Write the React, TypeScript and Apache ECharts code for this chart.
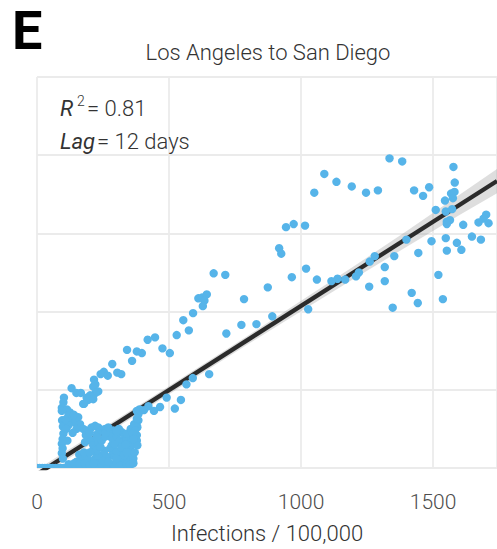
import React, { useEffect, useRef } from "react";
import * as echarts from "echarts";

// x axis ticks (Infections / 100,000)
const xTicks = [0, 500, 1000, 1500];
const xMax = 1742;
const yMax = 5;

// points lying on the zero line
const baseline: number[][] = [
  [0, 0], [10, 0], [20, 0], [30, 0], [40, 0], [50, 0], [60, 0], [70, 0],
  [80, 0], [90, 0], [100, 0], [110, 0], [120, 0], [130, 0], [140, 0],
  [150, 0], [160, 0], [170, 0], [180, 0], [190, 0], [200, 0], [210, 0],
  [230, 0.01], [255, 0.01], [280, 0.02], [305, 0.01], [330, 0.02], [350, 0.01],
];

// dense cluster near the origin
const cluster: number[][] = [
  [207, 0.92], [194, 0.87], [175, 0.82], [94, 0.77], [94, 0.73], [113, 0.75],
  [125, 0.71], [119, 0.67], [131, 0.63], [144, 0.58], [156, 0.65], [163, 0.56],
  [175, 0.5], [188, 0.48], [207, 0.52], [220, 0.54], [232, 0.52], [245, 0.48],
  [258, 0.5], [277, 0.46], [289, 0.48], [302, 0.44], [321, 0.46], [333, 0.42],
  [352, 0.44], [365, 0.48], [378, 0.54], [384, 0.61], [384, 0.69], [388, 0.75],
  [95, 0.61], [98, 0.53], [100, 0.44], [97, 0.37], [94, 0.31], [97, 0.25],
  [94, 0.19], [98, 0.12], [182, 0.33], [194, 0.37], [207, 0.35], [213, 0.29],
  [213, 0.23], [226, 0.19], [220, 0.12], [207, 0.08], [232, 0.33], [245, 0.35],
  [258, 0.4], [277, 0.4], [289, 0.35], [283, 0.29], [277, 0.25], [289, 0.23],
  [283, 0.16], [264, 0.14], [245, 0.14], [232, 0.16], [226, 0.23], [302, 0.4],
  [314, 0.35], [327, 0.33], [340, 0.37], [352, 0.33], [359, 0.29], [346, 0.23],
  [352, 0.16], [340, 0.12], [327, 0.1], [314, 0.08], [308, 0.14], [302, 0.21],
  [327, 0.19], [239, 0.06], [264, 0.04], [289, 0.05], [314, 0.03], [340, 0.05],
  [352, 0.04], [378, 0.42], [378, 0.35], [380, 0.29], [150, 0.08], [170, 0.1],
  [190, 0.14],
  // fill of the dense mass
  [120, 0.05], [140, 0.06], [160, 0.05], [180, 0.06], [200, 0.04], [215, 0.06],
  [160, 0.17], [178, 0.2], [200, 0.2], [185, 0.42], [200, 0.45], [230, 0.44],
  [260, 0.45], [295, 0.3], [320, 0.26], [335, 0.3], [365, 0.12], [370, 0.2],
  [365, 0.06], [250, 0.09], [270, 0.08], [300, 0.12], [330, 0.16], [360, 0.38],
  [225, 0.4], [340, 0.44], [310, 0.5], [270, 0.52], [150, 0.5], [120, 0.55],
  [110, 0.5], [135, 0.45], [115, 0.35], [108, 0.62], [140, 0.68], [300, 0.47],
  [355, 0.5], [368, 0.56], [255, 0.22], [240, 0.27], [340, 0.2],
];

// rising arm between the cluster and the upper cloud
const rising: number[][] = [
  [669, 2.49], [713, 2.47], [784, 2.16], [611, 2.17], [625, 2.18], [643, 2.22],
  [634, 2.14], [628, 2.07], [591, 1.98], [554, 1.89], [575, 1.76], [529, 1.7],
  [774, 1.83], [717, 1.72], [447, 1.67], [419, 1.64], [475, 1.53], [503, 1.47],
  [341, 1.51], [378, 1.49], [397, 1.47], [360, 1.37], [285, 1.33], [253, 1.23],
  [241, 1.2], [268, 1.18], [304, 1.22], [319, 1.2], [216, 1.13], [221, 1.07],
  [213, 1.04], [131, 1.02], [149, 0.96], [166, 0.96], [232, 0.98], [222, 0.96],
  [201, 0.93], [188, 0.9], [213, 0.88], [178, 0.82], [102, 0.9], [100, 0.84],
  [590, 1.15], [566, 1.07], [652, 1.2], [545, 0.87], [491, 0.9], [522, 0.76],
  [466, 0.78], [422, 0.79], [443, 0.73], [378, 0.73], [390, 0.73], [405, 0.74],
  [378, 0.63], [380, 0.52], [371, 0.48], [363, 0.44], [365, 0.37],
];

// upper cloud
const upper: number[][] = [
  [1335, 3.96], [1383, 3.92], [1577, 3.85], [1088, 3.76], [1134, 3.66],
  [1582, 3.65], [1050, 3.52], [1192, 3.6], [1246, 3.52], [1291, 3.55],
  [1428, 3.55], [1485, 3.59], [1462, 3.48], [1568, 3.51], [1581, 3.53],
  [1545, 3.42], [1575, 3.45], [1510, 3.3], [1548, 3.28], [1572, 3.31],
  [1552, 3.15], [1564, 3.17], [1552, 3.12], [1701, 3.24], [1691, 3.19],
  [1672, 3.14], [1710, 3.13], [1614, 3.11], [1647, 2.96], [1681, 2.92],
  [1548, 2.94], [1590, 2.88], [1552, 2.78], [1607, 2.79], [1494, 2.9],
  [1399, 2.92], [1444, 2.75], [1353, 2.71], [1317, 2.57], [1317, 2.39],
  [1520, 2.47], [1419, 2.24], [1442, 2.11], [1537, 2.16], [1347, 2.05],
  [1279, 2.71], [1260, 2.64], [1219, 2.5], [1208, 2.45], [1167, 2.41],
  [1138, 2.42], [1115, 2.39], [1258, 2.32], [1060, 2.41], [1019, 2.55],
  [965, 2.44], [1027, 2.03], [943, 3.08], [972, 3.12], [1015, 3.1],
  [917, 2.81], [925, 2.74], [874, 2.31], [891, 1.94], [831, 1.84],
];

// fitted regression line and its confidence band
const fitX = [0, 1742];
const fitY = [-0.08, 3.67];
const bandX = [0, 400, 800, 1000, 1200, 1400, 1600, 1742];
const bandLow = [-0.14, 0.73, 1.585, 2.005, 2.42, 2.83, 3.235, 3.515];
const bandHigh = [-0.02, 0.83, 1.695, 2.14, 2.58, 3.03, 3.495, 3.825];

const panelLetter = "E";
const titleText = "Los Angeles to San Diego";
const r2Value = "0.81";
const lagDays = "12 days";
const xName = "Infections / 100,000";

const FONT = "Roboto, 'Noto Sans', sans-serif";

export default function App() {
  const ref = useRef<HTMLDivElement>(null);

  useEffect(() => {
    if (!ref.current) return;
    const chart = echarts.init(ref.current, null, { renderer: "svg" });
    const points = [...baseline, ...cluster, ...rising, ...upper];
    const gridColor = "#ebebeb";

    const txt = (text: string, x: number, y: number, font: string, align = "left") => ({
      type: "text",
      z: 10,
      x,
      y,
      style: {
        text,
        font,
        fill: "#333333",
        textAlign: align,
        textVerticalAlign: "middle",
      },
    });

    chart.setOption({
      animation: false,
      backgroundColor: "#ffffff",
      grid: { left: 37, right: 0, top: 77, bottom: 76, containLabel: false },
      xAxis: {
        type: "value",
        min: xTicks[0],
        max: xMax,
        interval: xTicks[1] - xTicks[0],
        axisLine: { show: false },
        axisTick: { show: false },
        axisLabel: {
          fontFamily: FONT,
          fontSize: 21,
          fontWeight: 300,
          color: "#4d4d4d",
          margin: 23,
          showMaxLabel: false,
          formatter: (v: number) => String(v),
        },
        splitLine: { show: true, lineStyle: { color: gridColor, width: 1.8 } },
        name: xName,
        nameLocation: "middle",
        nameGap: 54,
        nameTextStyle: { fontFamily: FONT, fontSize: 22, fontWeight: 300, color: "#333333" },
      },
      yAxis: {
        type: "value",
        min: 0,
        max: yMax,
        interval: 1,
        axisLine: { show: false },
        axisTick: { show: false },
        axisLabel: { show: false },
        splitLine: { show: true, lineStyle: { color: gridColor, width: 1.8 } },
      },
      series: [
        {
          type: "custom",
          coordinateSystem: "cartesian2d",
          clip: true,
          z: 1,
          data: [[bandX[0], bandLow[0]]],
          encode: { x: 0, y: 1 },
          renderItem: (_params: any, api: any) => {
            const pts: number[][] = [];
            for (let i = 0; i < bandX.length; i++) pts.push(api.coord([bandX[i], bandHigh[i]]));
            for (let i = bandX.length - 1; i >= 0; i--) pts.push(api.coord([bandX[i], bandLow[i]]));
            return {
              type: "polygon",
              shape: { points: pts },
              style: { fill: "rgba(153,153,153,0.32)" },
            };
          },
        },
        {
          type: "line",
          z: 2,
          clip: true,
          symbol: "none",
          data: fitX.map((x, i) => [x, fitY[i]]),
          lineStyle: { color: "#2b2b2b", width: 4.3 },
        },
        {
          type: "custom",
          coordinateSystem: "cartesian2d",
          clip: true,
          z: 3,
          data: points,
          encode: { x: 0, y: 1 },
          renderItem: (_params: any, api: any) => {
            const p = api.coord([api.value(0), api.value(1)]);
            return {
              type: "circle",
              shape: { cx: p[0], cy: p[1], r: 4.2 },
              style: { fill: "#56B4E9" },
            };
          },
        },
      ],
      graphic: [
        {
          type: "text",
          z: 10,
          x: 12,
          y: 30,
          style: {
            text: panelLetter,
            font: `bold 54px ${FONT}`,
            fill: "#000000",
            textAlign: "left",
            textVerticalAlign: "middle",
          },
        },
        txt(titleText, 268, 52.5, `300 22px ${FONT}`, "center"),
        txt("R", 60, 108, `italic 400 22px ${FONT}`),
        txt("2", 77, 100.5, `300 14px ${FONT}`),
        txt("= " + r2Value, 87, 108, `300 22px ${FONT}`),
        txt("Lag", 60, 141.5, `italic 400 22px ${FONT}`),
        txt("= " + lagDays, 97, 141.5, `300 22px ${FONT}`),
      ],
    });
    return () => chart.dispose();
  }, []);

  return (
    <div
      ref={ref}
      style={{ position: "absolute", left: 0, top: 0, width: 497, height: 549, background: "#ffffff" }}
    />
  );
}
